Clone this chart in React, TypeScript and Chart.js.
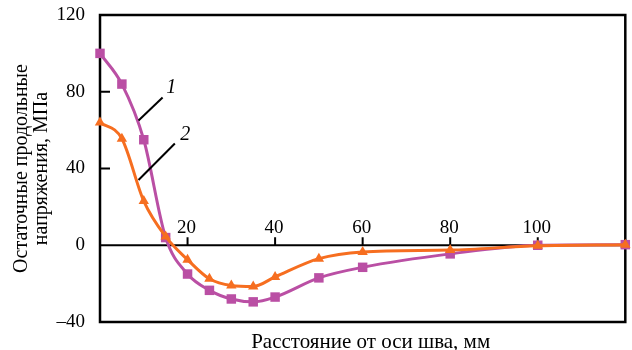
import React, { useEffect, useRef } from "react";
import { Chart, registerables } from "chart.js";

Chart.register(...registerables);

const distances = [0, 5, 10, 15, 20, 25, 30, 35, 40, 50, 60, 80, 100, 120];
const stress1 = [100, 84, 55, 4, -15, -23.5, -28, -29.5, -27, -17, -11.5, -4.5, 0, 0.3];
const stress2 = [64, 55.5, 23, 4.5, -7.5, -17.5, -21, -21.5, -16.5, -7, -3.5, -2.5, -0.3, 0.3];
const seriesLabels = ["1", "2"];
const xTitle = "Расстояние от оси шва, мм";
const yTitle = ["Остаточные продольные", "напряжения, МПа"];

const MAGENTA = "rgb(186,79,164)";
const ORANGE = "rgb(246,110,32)";
const SERIF = "'Liberation Serif', 'Times New Roman', serif";

// leader lines for curve labels, in data units: [x1, y1, x2, y2, labelX, labelY]
const leaders: [number, number, number, number, number, number][] = [
  [8.8, 65, 14.3, 77, 16.3, 82],
  [8.8, 34, 17.1, 53, 19.5, 57.5],
];

const framePlugin = {
  id: "frameAxes",
  beforeDatasetsDraw(chart: any) {
    const { ctx, chartArea: a, scales } = chart;
    const x = scales.x;
    const y = scales.y;
    const y0 = y.getPixelForValue(0);
    ctx.save();
    ctx.strokeStyle = "#000";
    ctx.lineWidth = 2.5;
    ctx.strokeRect(a.left, a.top, a.right - a.left, a.bottom - a.top);
    ctx.lineWidth = 2;
    ctx.beginPath();
    ctx.moveTo(a.left, y0);
    ctx.lineTo(a.right, y0);
    ctx.stroke();
    ctx.fillStyle = "#000";
    ctx.font = `19px ${SERIF}`;
    ctx.textAlign = "center";
    ctx.textBaseline = "alphabetic";
    x.ticks.forEach((t: any) => {
      if (t.value <= x.min || t.value >= x.max) return;
      const px = x.getPixelForValue(t.value);
      ctx.beginPath();
      ctx.moveTo(px, y0);
      ctx.lineTo(px, y0 - 8);
      ctx.stroke();
      ctx.fillText(String(t.value), px - 1, y0 - 12);
    });
    y.ticks.forEach((t: any) => {
      if (t.value <= y.min || t.value >= y.max || t.value === 0) return;
      const py = y.getPixelForValue(t.value);
      ctx.beginPath();
      ctx.moveTo(a.left, py);
      ctx.lineTo(a.left + 10, py);
      ctx.stroke();
    });
    // x-axis title
    ctx.font = `21px ${SERIF}`;
    ctx.textBaseline = "alphabetic";
    ctx.fillText(xTitle, (a.left + a.right) / 2 + 8, 348);
    ctx.restore();
  },
  afterDatasetsDraw(chart: any) {
    const { ctx, scales } = chart;
    const x = scales.x;
    const y = scales.y;
    ctx.save();
    ctx.strokeStyle = "#000";
    ctx.lineWidth = 2;
    ctx.fillStyle = "#000";
    ctx.font = `italic 20px ${SERIF}`;
    ctx.textAlign = "center";
    ctx.textBaseline = "middle";
    leaders.forEach((l, i) => {
      ctx.beginPath();
      ctx.moveTo(x.getPixelForValue(l[0]), y.getPixelForValue(l[1]));
      ctx.lineTo(x.getPixelForValue(l[2]), y.getPixelForValue(l[3]));
      ctx.stroke();
      ctx.fillText(seriesLabels[i], x.getPixelForValue(l[4]), y.getPixelForValue(l[5]));
    });
    ctx.restore();
  },
};

export default function App() {
  const ref = useRef<HTMLCanvasElement>(null);
  useEffect(() => {
    document.body.style.margin = "0";
    const canvas = ref.current;
    if (!canvas) return;
    const chart = new Chart(canvas, {
      type: "line",
      data: {
        datasets: [
          {
            label: seriesLabels[1],
            data: distances.map((d, i) => ({ x: d, y: stress2[i] })),
            borderColor: ORANGE,
            backgroundColor: ORANGE,
            borderWidth: 3,
            pointStyle: "triangle",
            pointRadius: 6,
            pointBorderWidth: 0,
            cubicInterpolationMode: "monotone",
            clip: false,
          },
          {
            label: seriesLabels[0],
            data: distances.map((d, i) => ({ x: d, y: stress1[i] })),
            borderColor: MAGENTA,
            backgroundColor: MAGENTA,
            borderWidth: 3,
            pointStyle: "rect",
            pointRadius: 6.7,
            pointBorderWidth: 0,
            cubicInterpolationMode: "monotone",
            clip: false,
          },
        ],
      },
      options: {
        animation: false,
        responsive: false,
        maintainAspectRatio: false,
        layout: { padding: { top: 15, right: 2, left: 0, bottom: 0 } },
        plugins: { legend: { display: false }, tooltip: { enabled: false } },
        scales: {
          x: {
            type: "linear",
            min: 0,
            max: 120,
            ticks: { stepSize: 20, display: false },
            grid: { display: false, drawTicks: false },
            border: { display: false },
            title: { display: false },
            afterFit: (s: any) => {
              s.height = 28;
              s.paddingLeft = 0;
              s.paddingRight = 0;
            },
          },
          y: {
            type: "linear",
            min: -40,
            max: 120,
            ticks: {
              stepSize: 40,
              color: "#000",
              padding: 15,
              font: { family: SERIF, size: 19 },
              callback: (v: any) => (Number(v) < 0 ? "\u2013" + Math.abs(Number(v)) : String(v)),
            },
            grid: { display: false, drawTicks: false },
            border: { display: false },
            title: {
              display: true,
              text: yTitle,
              color: "#000",
              font: { family: SERIF, size: 20, lineHeight: "20px" },
              padding: { top: 12, bottom: 0 },
            },
            afterFit: (s: any) => {
              s.width = 100;
              s.paddingTop = 0;
              s.paddingBottom = 0;
            },
          },
        },
      },
      plugins: [framePlugin],
    });
    return () => chart.destroy();
  }, []);
  return (
    <div style={{ width: 632, height: 350 }}>
      <canvas ref={ref} width={632} height={350} style={{ display: "block" }} />
    </div>
  );
}
